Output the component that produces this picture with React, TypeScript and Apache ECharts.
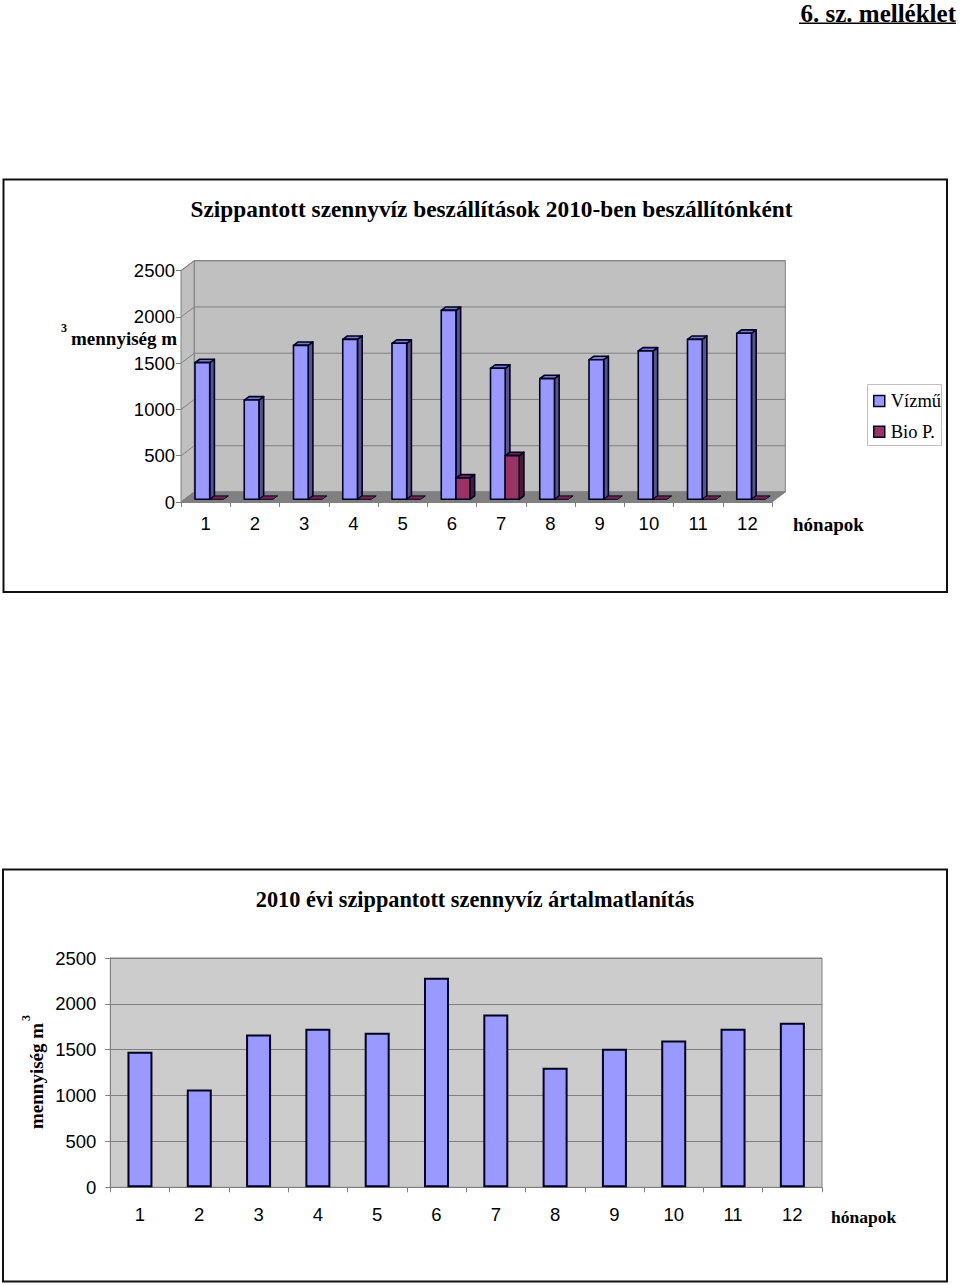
import React, { useEffect, useRef } from "react";
import * as echarts from "echarts";

const months = ["1", "2", "3", "4", "5", "6", "7", "8", "9", "10", "11", "12"];
const vizmu = [1477, 1073, 1664, 1729, 1686, 2042, 1416, 1304, 1509, 1603, 1729, 1794];
const bioP = [0, 0, 0, 0, 0, 230, 472, 0, 0, 0, 0, 0];
const total = [1478, 1067, 1667, 1728, 1685, 2284, 1885, 1303, 1510, 1601, 1728, 1794];
const yTicks = [0, 500, 1000, 1500, 2000, 2500];

const SERIF = "'Liberation Serif', serif";
const SANS = "'Liberation Sans', Arial, sans-serif";
const OUT = "#000022";
const DEPTH = { x: 13.3, y: -10 };

function boxItem(offset: number, width: number, face: string, side: string, top: string) {
  return (params: any, api: any) => {
    const band = api.size([1, 0])[0];
    const idx = api.value(0);
    const tp = api.coord([idx, api.value(1)]);
    const bt = api.coord([idx, 0]);
    const x0 = tp[0] - band / 2 + offset;
    const x1 = x0 + width;
    const yT = tp[1] - 2.7;
    const yB = bt[1] - 2.7;
    const dx = 4.7;
    const dy = -3.4;
    const line = { stroke: OUT, lineWidth: 1.6, lineJoin: "round" };
    const children: any[] = [];
    if (yB - yT > 0.5) {
      children.push({ type: "polygon", shape: { points: [[x1, yT], [x1 + dx, yT + dy], [x1 + dx, yB + dy], [x1, yB]] }, style: { fill: side, ...line } });
    }
    children.push({ type: "polygon", shape: { points: [[x0, yT], [x0 + dx, yT + dy], [x1 + dx, yT + dy], [x1, yT]] }, style: { fill: top, ...line, lineWidth: yB - yT > 0.5 ? 1.6 : 1 } });
    if (yB - yT > 0.5) {
      children.push({ type: "rect", shape: { x: x0, y: yT, width, height: yB - yT }, style: { fill: face, ...line } });
    }
    return { type: "group", children };
  };
}

function wallsItem(params: any, api: any) {
  const band = api.size([1, 0])[0];
  const bl = api.coord([0, 0]);
  const xL = bl[0] - band / 2;
  const xR = xL + band * 12;
  const yB = bl[1];
  const yTop = api.coord([0, 2500])[1];
  const dx = DEPTH.x;
  const dy = DEPTH.y;
  const edge = { stroke: "#808080", lineWidth: 1 };
  const children: any[] = [
    { type: "polygon", shape: { points: [[xL, yTop], [xL + dx, yTop + dy], [xL + dx, yB + dy], [xL, yB]] }, style: { fill: "#C0C0C0", ...edge } },
    { type: "rect", shape: { x: xL + dx, y: yTop + dy, width: xR - xL, height: yB - yTop }, style: { fill: "#C0C0C0", ...edge } },
    { type: "polygon", shape: { points: [[xL, yB], [xL + dx, yB + dy], [xR + dx, yB + dy], [xR, yB]] }, style: { fill: "#808080", ...edge } },
  ];
  yTicks.forEach((t) => {
    const y = api.coord([0, t])[1];
    children.push({ type: "line", shape: { x1: xL, y1: y, x2: xL + dx, y2: y + dy }, style: edge });
    children.push({ type: "line", shape: { x1: xL + dx, y1: y + dy, x2: xR + dx, y2: y + dy }, style: edge });
  });
  return { type: "group", children };
}

const serifBold = (text: string, x: number, y: number, size: number, extra: any = {}) => ({
  type: "text",
  x,
  y,
  ...extra,
  style: { text, fontFamily: SERIF, fontWeight: "bold", fontSize: size, fill: "#000", verticalAlign: "middle", align: "left", ...(extra.style || {}) },
});

export default function App() {
  const ref = useRef<HTMLDivElement>(null);
  useEffect(() => {
    document.body.style.margin = "0";
    const chart = echarts.init(ref.current!, undefined, { renderer: "svg" });
    const catAxis = (gridIndex: number, margin: number) => ({
      type: "category",
      gridIndex,
      data: months,
      boundaryGap: true,
      axisLine: { show: true, lineStyle: { color: "#808080" } },
      axisTick: { show: true, length: 5, interval: 0, lineStyle: { color: "#808080" } },
      axisLabel: { interval: 0, margin, fontFamily: SANS, fontSize: 18.5, color: "#000" },
      splitLine: { show: false },
    });
    const valAxis = (gridIndex: number, margin: number, grid: boolean) => ({
      type: "value",
      gridIndex,
      min: 0,
      max: 2500,
      interval: 500,
      axisLine: { show: true, lineStyle: { color: "#808080" } },
      axisTick: { show: true, length: 5, lineStyle: { color: "#808080" } },
      axisLabel: { margin, fontFamily: SANS, fontSize: 18.5, color: "#000", formatter: (v: number) => String(v) },
      splitLine: { show: grid, lineStyle: { color: "#808080", width: 1 } },
    });
    chart.setOption({
      animation: false,
      backgroundColor: "#fff",
      title: [
        { text: "Szippantott szennyvíz beszállítások 2010-ben beszállítónként", padding: 0, left: 491.5, top: 197.5, textAlign: "center", textStyle: { fontFamily: SERIF, fontWeight: "bold", fontSize: 23.3, color: "#000" } },
        { text: "2010 évi szippantott szennyvíz ártalmatlanítás", padding: 0, left: 475, top: 888, textAlign: "center", textStyle: { fontFamily: SERIF, fontWeight: "bold", fontSize: 22.3, color: "#000" } },
      ],
      legend: {
        orient: "vertical",
        left: 873,
        top: 391,
        padding: 0,
        itemWidth: 11,
        itemHeight: 11,
        itemGap: 10.7,
        icon: "rect",
        textStyle: { fontFamily: SERIF, fontSize: 18.5, color: "#000", lineHeight: 20, padding: [0, 0, 0, 1] },
        data: [
          { name: "Vízmű", itemStyle: { color: "#9999FF", borderColor: OUT, borderWidth: 1.5 } },
          { name: "Bio P.", itemStyle: { color: "#993366", borderColor: OUT, borderWidth: 1.5 } },
        ],
      },
      grid: [
        { left: 181, top: 270.7, width: 591, height: 231.3 },
        { left: 110.3, top: 958, width: 711.7, height: 229.3, show: true, backgroundColor: "#CCCCCC", borderColor: "#808080", borderWidth: 1 },
      ],
      xAxis: [catAxis(0, 12), catAxis(1, 18)],
      yAxis: [valAxis(0, 6, false), valAxis(1, 14, true)],
      series: [
        { type: "custom", name: "walls", xAxisIndex: 0, yAxisIndex: 0, z: 1, silent: true, data: [[0, 0]], renderItem: wallsItem, encode: { x: 0, y: 1 } },
        { type: "custom", name: "Vízmű", xAxisIndex: 0, yAxisIndex: 0, z: 3, data: vizmu.map((v, i) => [i, v]), renderItem: boxItem(14, 14.7, "#9999FF", "#555588", "#7A7ACC"), encode: { x: 0, y: 1 } },
        { type: "custom", name: "Bio P.", xAxisIndex: 0, yAxisIndex: 0, z: 4, data: bioP.map((v, i) => [i, v]), renderItem: boxItem(28.7, 14, "#993366", "#4D1A33", "#73264D"), encode: { x: 0, y: 1 } },
        { type: "bar", name: "Összesen", xAxisIndex: 1, yAxisIndex: 1, z: 3, data: total, barWidth: 25, itemStyle: { color: "#9999FF", borderColor: OUT, borderWidth: 2 } },
      ],
      graphic: [
        { type: "rect", z: 0, shape: { x: 3.5, y: 179.5, width: 943.5, height: 412.5 }, style: { fill: "none", stroke: "#111", lineWidth: 2 } },
        { type: "rect", z: 0, shape: { x: 3, y: 869.5, width: 944, height: 412 }, style: { fill: "none", stroke: "#111", lineWidth: 2 } },
        { type: "rect", z: 0, shape: { x: 867.5, y: 384.5, width: 74, height: 61 }, style: { fill: "#fff", stroke: "#BDBDBD", lineWidth: 1 } },
        serifBold("6. sz. melléklet", 956, 13, 25, { style: { align: "right" } }),
        { type: "rect", shape: { x: 799, y: 22.5, width: 157, height: 1.6 }, style: { fill: "#000" } },
        serifBold("mennyiség m", 71, 338.5, 19),
        serifBold("3", 61, 328, 12),
        serifBold("hónapok", 793, 524.5, 19),
        serifBold("hónapok", 831, 1216.5, 17.5),
        serifBold("mennyiség m", 36, 1129, 19, { rotation: Math.PI / 2 }),
        serifBold("3", 26, 1021, 12, { rotation: Math.PI / 2 }),
      ],
    });
    return () => chart.dispose();
  }, []);
  return <div ref={ref} style={{ width: 960, height: 1285 }} />;
}
